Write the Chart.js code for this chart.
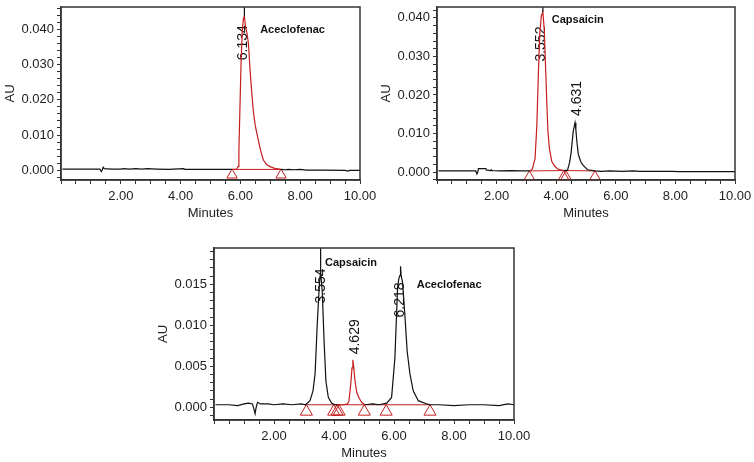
<!DOCTYPE html>
<html>
<head>
<meta charset="utf-8">
<script src="https://cdn.jsdelivr.net/npm/chart.js@4"></script>
<style>
  html, body { margin: 0; padding: 0; background: #fff; width: 754px; height: 462px; overflow: hidden; position: relative; }
  canvas { position: absolute; }
</style>
</head>
<body>
<canvas id="chart-acec" width="380" height="225" style="left:0;top:0"></canvas>
<canvas id="chart-caps" width="378" height="225" style="left:376px;top:0"></canvas>
<canvas id="chart-mix" width="380" height="225" style="left:153px;top:240px"></canvas>
<script>
// ---- data: [minutes, AU] ----

// Aceclofenac standard
const acecBlackA = [[0.05,0.0003],[0.6,0.0003],[1.0,0.0003],[1.3,0.0003],[1.35,-0.0004],[1.38,0.0000],[1.41,0.0008],[1.45,0.0004],
  [1.7,0.0003],[2.0,0.0003],[2.1,0.0004],[2.3,0.0003],[2.5,0.0004],[2.7,0.0003],[2.9,0.0004],[3.2,0.0003],[3.6,0.0002],
  [4.1,0.0004],[4.15,0.0002],[4.6,0.0002],[5.2,0.0002],[5.72,0.0002]];
const acecRed = [[5.72,0.0002],[5.88,0.0003],[5.92,0.001],[5.95,0.006],[5.98,0.016],[6.02,0.030],[6.06,0.039],[6.1,0.0432],
  [6.134,0.0438],[6.17,0.041],[6.22,0.039],[6.27,0.036],[6.32,0.029],[6.38,0.022],[6.43,0.017],[6.5,0.0125],[6.6,0.0085],
  [6.68,0.0055],[6.77,0.0028],[6.88,0.0016],[6.99,0.001],[7.15,0.0005],[7.35,0.0002]];
const acecBlackB = [[7.35,0.0002],[7.5,0.0001],[7.6,0.0002],[7.8,0.0001],[8.0,0.0002],[8.2,0.0000],[8.8,0.0000],[9.5,-0.0001],
  [9.6,-0.0003],[9.65,-0.0001],[10,-0.0001]];
const acecBase = [[[5.72,0.0002],[7.35,0.0002]]];
const acecMarks = [5.72, 7.36];
const acecApex = [[6.134, 0.0438]];
const acecPeakLabels = [{ text: "6.134", t: 6.09, au: 0.0363 }];
const acecNames = [{ text: "Aceclofenac", t: 6.66, au: 0.040 }];

// Capsaicin standard
const capsBlackA = [[0.05,0.0003],[0.8,0.0003],[1.3,0.0003],[1.34,-0.0005],[1.37,0.0000],[1.39,0.0009],[1.64,0.0009],[1.66,0.0005],
  [1.8,0.0004],[1.82,0.0006],[1.84,0.0004],[2.1,0.0003],[2.5,0.0004],[2.8,0.0003],[3.12,0.0003]];
const capsRed = [[3.12,0.0003],[3.2,0.0008],[3.29,0.0035],[3.35,0.012],[3.4,0.025],[3.45,0.036],[3.5,0.0405],[3.552,0.0415],
  [3.6,0.037],[3.64,0.028],[3.68,0.019],[3.72,0.011],[3.77,0.0062],[3.85,0.0028],[3.95,0.0015],[4.05,0.0008],[4.25,0.0004]];
const capsBlackB = [[4.25,0.0004],[4.38,0.0005],[4.45,0.0025],[4.5,0.005],[4.57,0.0105],[4.631,0.0128],[4.66,0.011],[4.69,0.0082],
  [4.74,0.0048],[4.77,0.0039],[4.83,0.0026],[4.88,0.002],[4.94,0.0015],[5.05,0.0006],[5.3,0.0003],[5.5,0.0002],[5.8,0.0003],
  [6.2,0.0002],[6.6,0.0003],[6.8,0.0002],[7.2,0.0002],[7.9,0.0002],[8.1,0.0001],[9,0.0001],[10,0.0001]];
const capsBase = [[[3.12,0.0003],[4.25,0.0004]], [[4.33,0.0004],[5.3,0.0003]]];
const capsMarks = [3.1, 4.25, 4.33, 5.3];
const capsApex = [[3.552, 0.0415]];
const capsPeakLabels = [{ text: "3.552", t: 3.51, au: 0.0332 }, { text: "4.631", t: 4.69, au: 0.0191 }];
const capsNames = [{ text: "Capsaicin", t: 3.85, au: 0.0394 }];

// Mixture
const mixBlackA = [[0.05,0.0003],[0.5,0.0003],[0.8,0.0002],[1.0,0.0004],[1.15,0.0005],[1.28,0.0004],[1.33,-0.0002],[1.37,-0.0008],
  [1.4,-0.0001],[1.45,0.0006],[1.55,0.0004],[1.8,0.0004],[2.0,0.0003],[2.3,0.0004],[2.6,0.0003],[2.9,0.0004],[3.05,0.0003],
  [3.2,0.0008],[3.3,0.002],[3.37,0.0041],[3.44,0.010],[3.51,0.0149],[3.554,0.0166],[3.61,0.014],[3.67,0.008],[3.73,0.0032],
  [3.81,0.0012],[3.92,0.0005],[4.03,0.0003],[4.12,0.0003]];
const mixRed = [[4.12,0.0003],[4.3,0.0003],[4.45,0.0004],[4.5,0.0008],[4.56,0.0029],[4.6,0.0048],[4.629,0.0058],[4.66,0.0048],
  [4.7,0.0032],[4.76,0.0018],[4.84,0.0011],[4.92,0.0006],[5.02,0.0003]];
const mixBlackB = [[5.02,0.0003],[5.3,0.0004],[5.5,0.0003],[5.76,0.0005],[5.92,0.0012],[6.03,0.006],[6.09,0.0118],[6.12,0.0146],
  [6.16,0.0157],[6.2,0.0161],[6.218,0.0172],[6.24,0.0160],[6.28,0.0154],[6.31,0.0140],[6.37,0.0108],[6.44,0.0068],[6.53,0.0041],
  [6.64,0.002],[6.81,0.0008],[7.09,0.0004],[7.2,0.0003],[7.5,0.0003],[8.0,0.0002],[8.5,0.0003],[9.0,0.0003],[9.5,0.0002],
  [9.8,0.0004],[10,0.0003]];
const mixBase = [[[3.08,0.0003],[7.2,0.0003]]];
const mixMarks = [3.08, 3.99, 4.1, 4.17, 5.01, 5.74, 7.2];
const mixApex = [[3.554, 0.0166]];
const mixPeakLabels = [{ text: "3.554", t: 3.57, au: 0.0148 }, { text: "4.629", t: 4.70, au: 0.0086 }, { text: "6.218", t: 6.22, au: 0.0131 }];
const mixNames = [{ text: "Capsaicin", t: 3.70, au: 0.01764 }, { text: "Aceclofenac", t: 6.76, au: 0.01494 }];

// ---- drawing ----
const FONT = "'Liberation Sans', Arial, sans-serif";
const INK = "#111";
const RED = "#c41e1e";
const AXIS = "#333";

const _charts = {};

function _trace(pts, color) {
  return { data: pts.map(([x, y]) => ({ x, y })), borderColor: color, borderWidth: 1.2,
    pointRadius: 0, showLine: true, tension: 0, fill: false };
}

const annotPlugin = {
  id: "annot",
  beforeDatasetsDraw(chart, args, opts) {
    const { ctx, scales: { x, y } } = chart;
    ctx.save();
    ctx.fillStyle = INK;
    ctx.font = `14px ${FONT}`;
    ctx.textAlign = "center"; ctx.textBaseline = "middle";
    opts.peaks.forEach(p => {
      ctx.save();
      ctx.translate(x.getPixelForValue(p.t), y.getPixelForValue(p.au));
      ctx.rotate(-Math.PI / 2);
      ctx.fillText(p.text, 0, 0);
      ctx.restore();
    });
    ctx.font = `bold 11px ${FONT}`;
    ctx.textAlign = "left";
    opts.names.forEach(n => ctx.fillText(n.text, x.getPixelForValue(n.t), y.getPixelForValue(n.au)));
    ctx.restore();
  },
  afterDraw(chart) {
    const { ctx, chartArea: a } = chart;
    ctx.save();
    ctx.strokeStyle = AXIS; ctx.lineWidth = 1.5;
    ctx.strokeRect(a.left, a.top, a.right - a.left, a.bottom - a.top);
    ctx.restore();
  },
};

// evenly stepped axis ticks between the axis limits
function _stepTicks(min, max, step) {
  const out = [];
  for (let k = Math.ceil(min / step - 1e-9); k * step <= max + 1e-12; k++) out.push({ value: k * step });
  return out;
}

function buildChrom(id, c) {
  const datasets = [];
  c.black.forEach(seg => datasets.push(_trace(seg, INK)));
  c.apex.forEach(([t, au]) => datasets.push(_trace([[t, au], [t, c.yMax]], INK)));
  c.red.forEach(seg => datasets.push(_trace(seg, RED)));
  c.base.forEach(seg => datasets.push({ ..._trace(seg, RED), borderWidth: 1 }));
  datasets.push({
    data: c.marks.map(t => ({ x: t, y: c.markY })), showLine: false,
    pointStyle: "triangle", pointRadius: c.markR, borderColor: RED, borderWidth: 1,
    backgroundColor: "rgba(0,0,0,0)",
  });

  const tickFont = { family: FONT, size: 13 };
  _charts[id] = new Chart(document.getElementById(id), {
    type: "scatter",
    data: { datasets },
    plugins: [annotPlugin],
    options: {
      responsive: false, animation: false, events: [],
      layout: { padding: { left: 0, top: 5, right: c.padRight, bottom: 0 } },
      plugins: { legend: { display: false }, tooltip: { enabled: false },
        annot: { peaks: c.peaks, names: c.names } },
      scales: {
        x: {
          type: "linear", min: 0, max: 10,
          ticks: { autoSkip: false, maxRotation: 0, padding: 5, color: "#222", font: tickFont,
            callback: v => (v > 0 && Math.abs(v / 2 - Math.round(v / 2)) < 1e-6) ? v.toFixed(2) : "" },
          afterBuildTicks: s => { s.ticks = _stepTicks(0, 10, 0.5); },
          grid: { drawOnChartArea: false, tickLength: 4, color: AXIS },
          border: { color: AXIS, width: 1.5 },
          title: { display: true, text: "Minutes", color: "#222", font: tickFont, padding: { top: 0, bottom: 4 } },
          afterFit: s => { s.height = 45; s.paddingLeft = 0; s.paddingRight = 0; },
        },
        y: {
          type: "linear", min: c.yMin, max: c.yMax,
          ticks: { autoSkip: false, padding: 3, color: "#222", font: tickFont,
            callback: v => {
              const k = v / c.yLabelStep;
              return Math.abs(k - Math.round(k)) < 1e-6 ? (Math.abs(v) < 1e-9 ? 0 : v).toFixed(3) : "";
            } },
          afterBuildTicks: s => { s.ticks = _stepTicks(c.yMin, c.yMax, c.yStep); },
          grid: { drawOnChartArea: false, tickLength: 4, color: AXIS },
          border: { color: AXIS, width: 1.5 },
          title: { display: true, text: "AU", color: "#222", font: tickFont, padding: { top: 3, bottom: 0 } },
          afterFit: s => { s.width = 61; s.paddingTop = 0; s.paddingBottom = 0; },
        },
      },
    },
  });
}

buildChrom("chart-acec", {
  black: [acecBlackA, acecBlackB], red: [acecRed], base: acecBase, apex: acecApex,
  marks: acecMarks, markY: -0.0014, markR: 6, peaks: acecPeakLabels, names: acecNames,
  yMin: -0.00282, yMax: 0.04648, yStep: 0.002, yLabelStep: 0.01, padRight: 20,
});

buildChrom("chart-caps", {
  black: [capsBlackA, capsBlackB], red: [capsRed], base: capsBase, apex: capsApex,
  marks: capsMarks, markY: -0.0012, markR: 6, peaks: capsPeakLabels, names: capsNames,
  yMin: -0.00205, yMax: 0.04282, yStep: 0.002, yLabelStep: 0.01, padRight: 19,
});

buildChrom("chart-mix", {
  black: [mixBlackA, mixBlackB], red: [mixRed], base: mixBase, apex: mixApex,
  marks: mixMarks, markY: -0.00054, markR: 7, peaks: mixPeakLabels, names: mixNames,
  yMin: -0.00156, yMax: 0.01944, yStep: 0.001, yLabelStep: 0.005, padRight: 19,
});
</script>
</body>
</html>
